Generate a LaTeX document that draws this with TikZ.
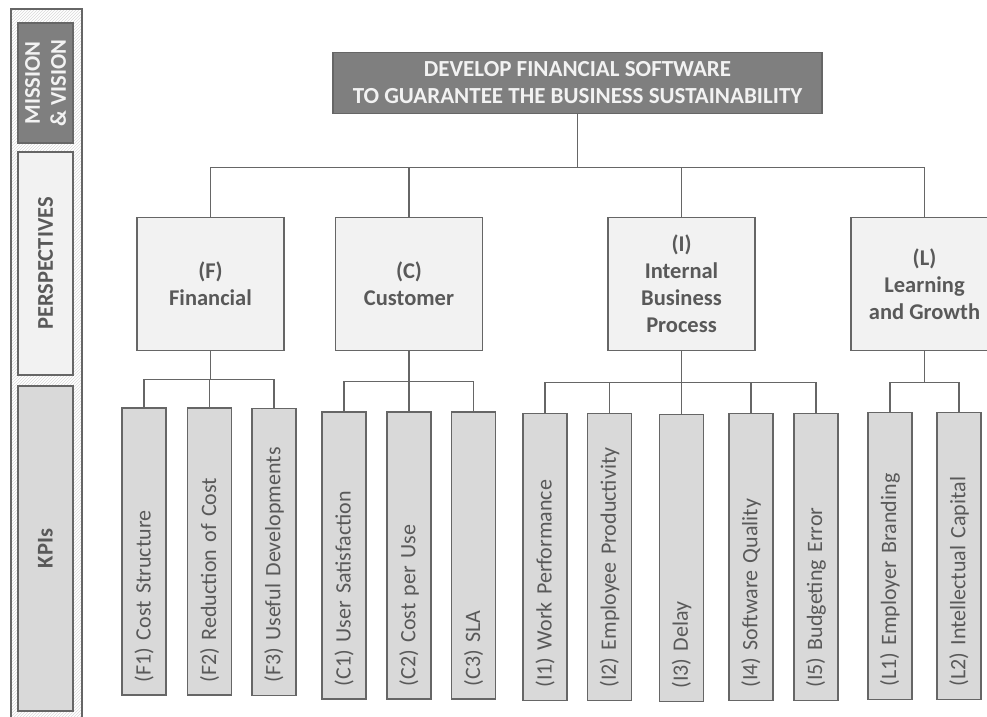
\documentclass[tikz,border=0pt]{standalone}
\usepackage{fontspec}
\setmainfont{Carlito}
\usetikzlibrary{positioning,patterns}
\definecolor{linegray}{HTML}{666666}
\definecolor{textgray}{HTML}{595959}
\definecolor{goalfill}{HTML}{7F7F7F}
\definecolor{perspfill}{HTML}{F2F2F2}
\definecolor{kpifill}{HTML}{D9D9D9}
\begin{document}
\begin{tikzpicture}[x=1pt,y=-1pt,
    goal/.style={draw=linegray,line width=1.5pt,fill=goalfill,text=perspfill,align=center,
      font=\bfseries\fontsize{23}{27}\selectfont,minimum width=489pt,minimum height=61pt,inner sep=0pt},
    persp/.style={draw=linegray,line width=1.5pt,fill=perspfill,text=textgray,align=center,
      font=\bfseries\fontsize{22.5}{27}\selectfont,minimum width=147pt,minimum height=133pt,inner sep=0pt},
    kpi/.style={draw=linegray,line width=1.5pt,fill=kpifill,text=textgray,rotate=90,
      font=\fontsize{22}{25}\selectfont,text width=261pt,align=left,inner xsep=13pt,inner ysep=0pt,
      minimum width=287pt,minimum height=44pt},
    side/.style={draw=linegray,line width=1.5pt,rotate=90,align=center,inner sep=0pt,
      font=\bfseries\fontsize{22.5}{26}\selectfont,minimum height=55pt},
    link/.style={draw=linegray,line width=1.5pt}]
  \useasboundingbox (0,0) rectangle (987,716);
  % left column
  \draw[linegray,line width=1.2pt,pattern=north east lines,pattern color=gray!30]
    (11,9) rectangle (82,722);
  \node[side,fill=goalfill,text=perspfill,minimum width=120pt] (mission) at (45.5,83) {MISSION\\ \& VISION};
  \node[side,fill=perspfill,text=textgray,minimum width=223pt] (persps) at (45.5,263.5) {PERSPECTIVES};
  \node[side,fill=kpifill,text=textgray,minimum width=325pt] (kpis) at (45.5,548.5) {KPIs};
  % mission and perspectives
  \node[goal] (goal) at (577.5,83) {DEVELOP FINANCIAL SOFTWARE\\TO GUARANTEE THE BUSINESS SUSTAINABILITY};
  \node[persp] (fin) at (210.5,284) {(F)\\Financial};
  \node[persp] (cust) at (409,284) {(C)\\Customer};
  \node[persp] (intern) at (681.5,284) {(I)\\Internal\\Business\\Process};
  \node[persp] (learn) at (924.5,284) {(L)\\Learning\\and Growth};
  \draw[link] (goal.south) -- ++(0,53) coordinate (bus);
  \draw[link] (fin.north) |- (bus) -| (learn.north);
  \draw[link] (cust.north) -- (cust.north |- bus);
  \draw[link] (intern.north) -- (intern.north |- bus);
  % KPIs
  \node[kpi] (f1) at (144,551.5) {(F1) Cost Structure};
  \node[kpi] (f2) at (209.5,551.5) {(F2) Reduction of Cost};
  \node[kpi] (f3) at (274,552) {(F3) Useful Developments};
  \node[kpi] (c1) at (344,555.5) {(C1) User Satisfaction};
  \node[kpi] (c2) at (409,555.5) {(C2) Cost per Use};
  \node[kpi] (c3) at (473.5,555.5) {(C3) SLA};
  \node[kpi] (i1) at (545,557) {(I1) Work Performance};
  \node[kpi] (i2) at (609.5,557) {(I2) Employee Productivity};
  \node[kpi] (i3) at (681.5,558) {(I3) Delay};
  \node[kpi] (i4) at (751,557) {(I4) Software Quality};
  \node[kpi] (i5) at (816,557) {(I5) Budgeting Error};
  \node[kpi] (l1) at (890,556) {(L1) Employer Branding};
  \node[kpi] (l2) at (959,556) {(L2) Intellectual Capital};
  % KPI links
  \draw[link] (fin.south) -- ++(0,28) coordinate (fbus);
  \draw[link] (f1.east) |- (fbus) -| (f3.east);
  \draw[link] (f2.east) -- (f2.east |- fbus);
  \draw[link] (cust.south) -- ++(0,30) coordinate (cbus);
  \draw[link] (c1.east) |- (cbus) -| (c3.east);
  \draw[link] (c2.east) -- (c2.east |- cbus);
  \draw[link] (intern.south) -- ++(0,31) coordinate (ibus);
  \draw[link] (i1.east) |- (ibus) -| (i5.east);
  \draw[link] (i2.east) -- (i2.east |- ibus);
  \draw[link] (i3.east) -- (i3.east |- ibus);
  \draw[link] (i4.east) -- (i4.east |- ibus);
  \draw[link] (learn.south) -- ++(0,31) coordinate (lbus);
  \draw[link] (l1.east) |- (lbus) -| (l2.east);
\end{tikzpicture}
\end{document}
